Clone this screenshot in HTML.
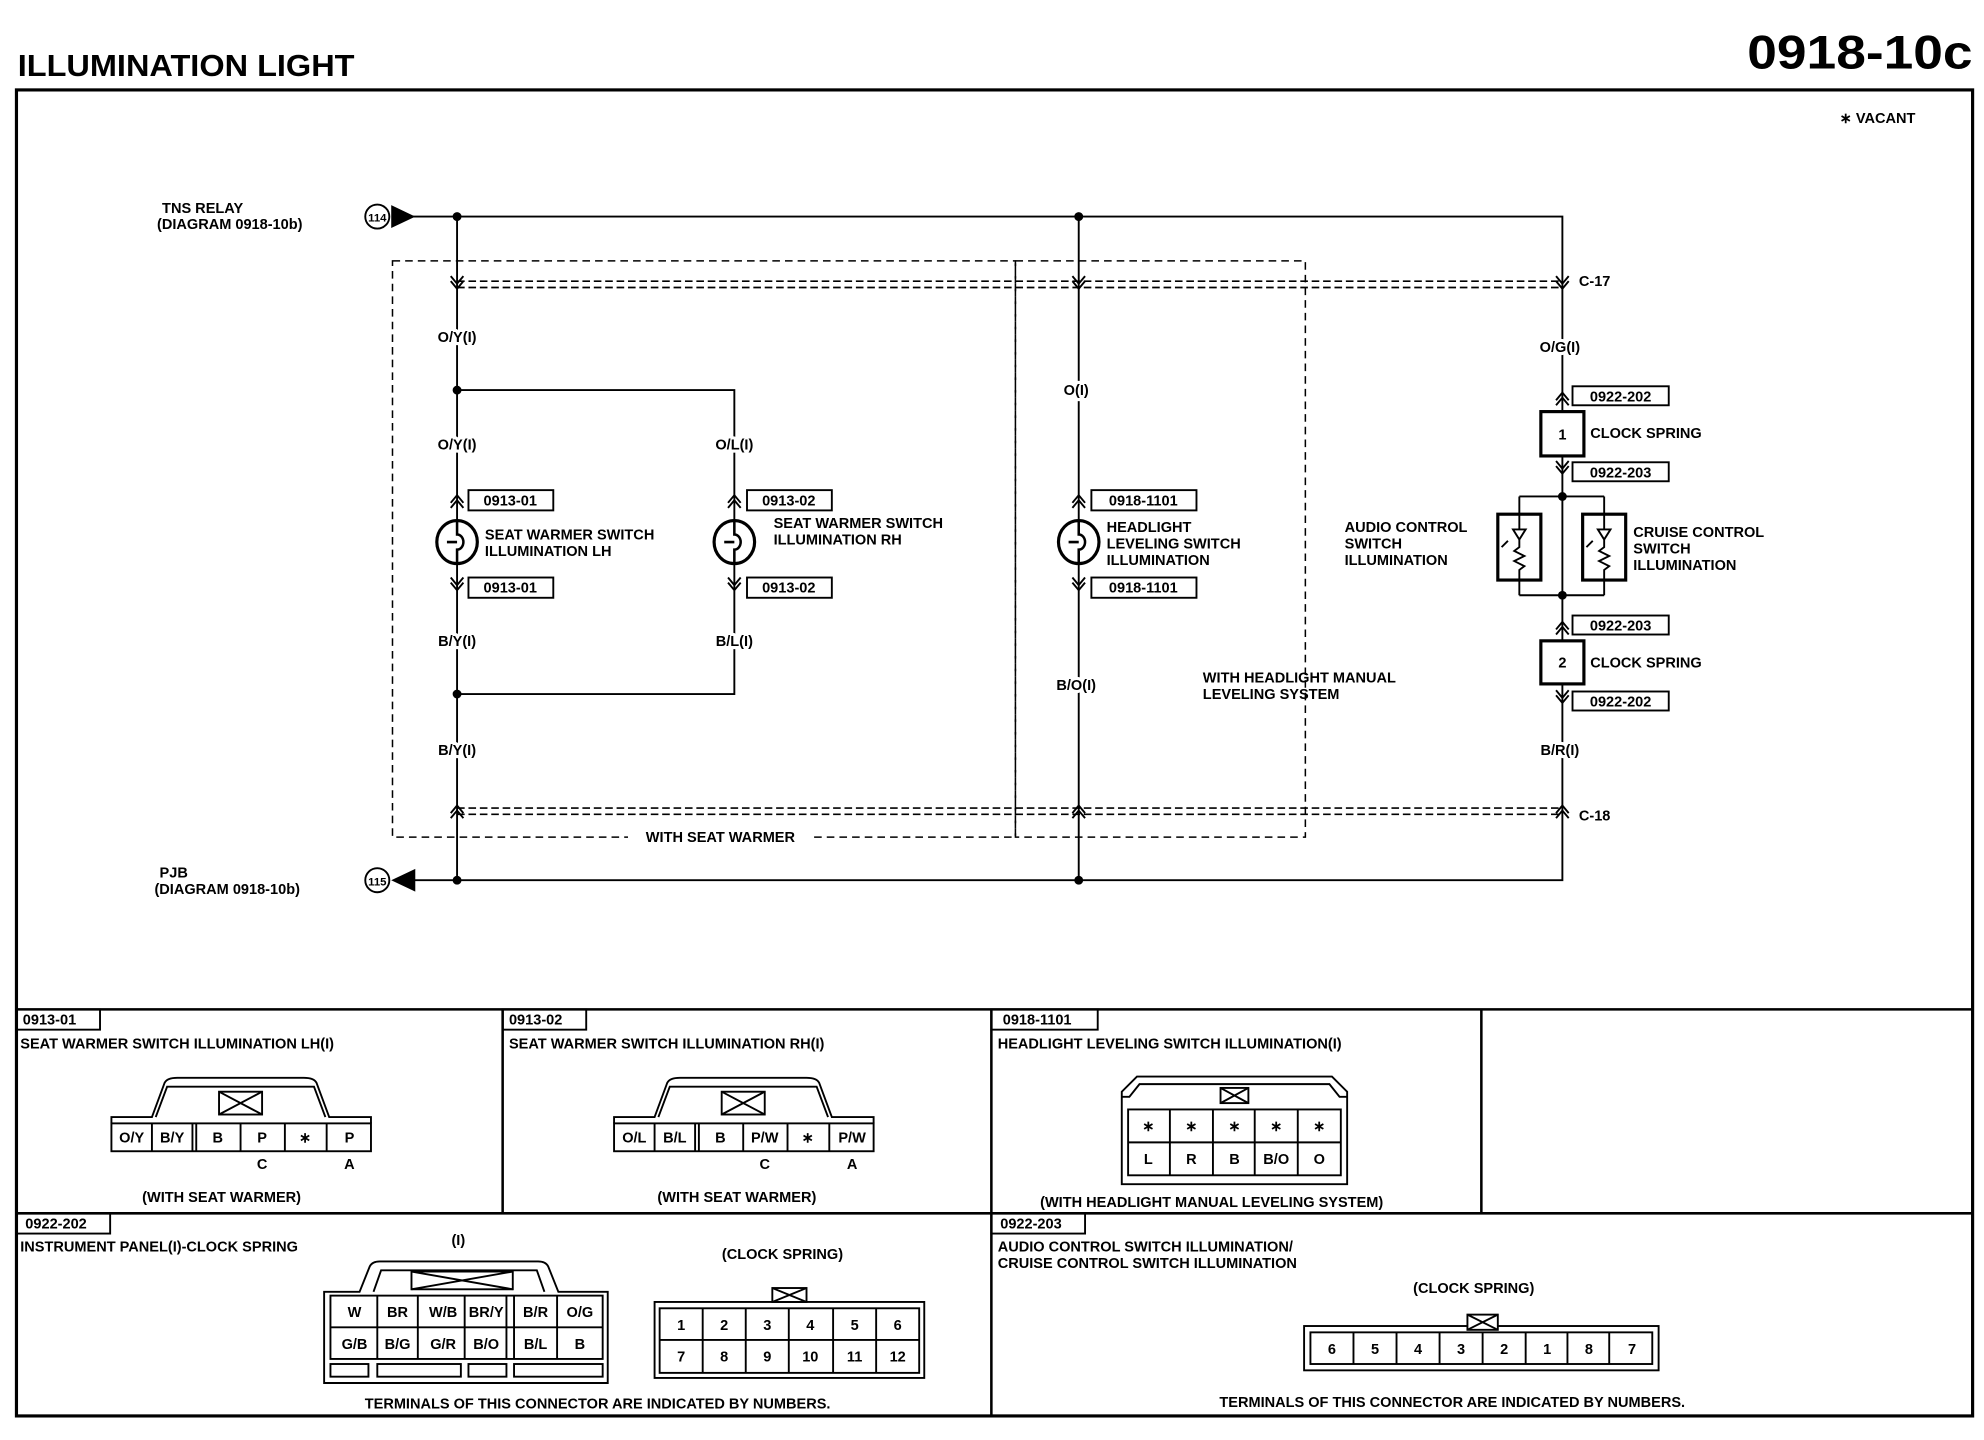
<!DOCTYPE html>
<html><head><meta charset="utf-8"><style>
html,body{margin:0;padding:0;background:#fff}
svg{display:block}
text{font-family:"Liberation Sans",Arial,sans-serif;font-weight:bold;fill:#000}
.s{font-size:11.5px}
.m{font-size:12.5px}
.w{stroke:#fff;stroke-width:5px;paint-order:stroke;stroke-linejoin:round}
</style></head><body>
<svg width="1984" height="1440" viewBox="0 0 1567 1137" preserveAspectRatio="none" xmlns="http://www.w3.org/2000/svg">
<defs>
<g id="up"><path d="M-5,4 L0,-2 L5,4 M-5,8 L0,2 L5,8" fill="none" stroke="#000" stroke-width="1.5"/></g>
<g id="dn"><path d="M-5,-4 L0,2 L5,-4 M-5,-8 L0,-2 L5,-8" fill="none" stroke="#000" stroke-width="1.5"/></g>
<g id="bulb"><ellipse cx="0" cy="0" rx="16" ry="17" fill="#fff" stroke="#000" stroke-width="2.5"/><path d="M0,-17 L0,-6 A5,6 0 0 1 0,6 L0,17 M-8,0 L0,0" fill="none" stroke="#000" stroke-width="2"/></g>
</defs>
<text x="14" y="60" style="font-size:24px" textLength="266" lengthAdjust="spacingAndGlyphs">ILLUMINATION LIGHT</text>
<text x="1380" y="54" style="font-size:37px" textLength="178" lengthAdjust="spacingAndGlyphs">0918-10c</text>
<rect x="13" y="71" width="1545" height="1047" fill="none" stroke="#000" stroke-width="2.5"/>
<text x="1453" y="97" class="s">∗ VACANT</text>

<g fill="none" stroke="#000" stroke-width="1.5">
<path d="M316,171 H1234 V695 H320"/>
<path d="M361,171 V695 M852,171 V695"/>
<path d="M361,308 H580 V548 H361"/>
<rect x="310" y="206" width="492" height="455" stroke-dasharray="6,4" stroke-width="1.2"/>
<rect x="802" y="206" width="229" height="455" stroke-dasharray="6,4" stroke-width="1.2"/>
<path d="M361,222 H1234 M361,227 H1234 M361,638 H1234 M361,643 H1234" stroke-dasharray="6,3" stroke-width="1.3"/>
<rect x="1217" y="325" width="34" height="35" stroke-width="2.5" fill="#fff"/>
<rect x="1217" y="506" width="34" height="34" stroke-width="2.5" fill="#fff"/>
<path d="M1200,392 H1267 M1200,470 H1267 M1200,392 V406 M1267,392 V406 M1200,458 V470 M1267,458 V470"/>
<rect x="1183" y="406" width="34" height="52" stroke-width="2.5"/>
<rect x="1250" y="406" width="34" height="52" stroke-width="2.5"/>
<path d="M1200,406 V418 M1195,418 H1205 L1200,426 Z M1200,426 V432 L1196,435 L1204,439 L1196,443 L1204,447 L1200,450 V458"/>
<path d="M1267,406 V418 M1262,418 H1272 L1267,426 Z M1267,426 V432 L1263,435 L1271,439 L1263,443 L1271,447 L1267,450 V458"/>
<path d="M1186,432 l5,-5 M1253,432 l5,-5"/>
<rect x="370" y="387" width="67" height="16"/><rect x="370" y="456" width="67" height="16"/>
<rect x="590" y="387" width="67" height="16"/><rect x="590" y="456" width="67" height="16"/>
<rect x="862" y="387" width="83" height="16"/><rect x="862" y="456" width="83" height="16"/>
<rect x="1242" y="305" width="76" height="15"/><rect x="1242" y="365" width="76" height="15"/>
<rect x="1242" y="486" width="76" height="15"/><rect x="1242" y="546" width="76" height="15"/>
</g>
<path d="M309,162 L328,171 L309,180 Z"/>
<path d="M328,686 L309,695 L328,704 Z"/>
<circle cx="298" cy="171" r="9.5" fill="#fff" stroke="#000" stroke-width="1.5"/>
<circle cx="298" cy="695" r="9.5" fill="#fff" stroke="#000" stroke-width="1.5"/>
<text x="298" y="175" text-anchor="middle" style="font-size:9px">114</text>
<text x="298" y="699" text-anchor="middle" style="font-size:9px">115</text>
<g fill="#000"><circle cx="361" cy="171" r="3.5"/><circle cx="852" cy="171" r="3.5"/><circle cx="361" cy="308" r="3.5"/><circle cx="361" cy="548" r="3.5"/><circle cx="361" cy="695" r="3.5"/><circle cx="852" cy="695" r="3.5"/><circle cx="1234" cy="392" r="3.5"/><circle cx="1234" cy="470" r="3.5"/></g>
<use href="#dn" x="361" y="226"/><use href="#dn" x="852" y="226"/><use href="#dn" x="1234" y="226"/>
<use href="#up" x="361" y="638"/><use href="#up" x="852" y="638"/><use href="#up" x="1234" y="638"/>
<use href="#up" x="361" y="393"/><use href="#up" x="580" y="393"/><use href="#up" x="852" y="393"/>
<use href="#dn" x="361" y="464"/><use href="#dn" x="580" y="464"/><use href="#dn" x="852" y="464"/>
<use href="#up" x="1234" y="312"/><use href="#dn" x="1234" y="372"/><use href="#up" x="1234" y="493"/><use href="#dn" x="1234" y="553"/>
<use href="#bulb" x="361" y="428"/><use href="#bulb" x="580" y="428"/><use href="#bulb" x="852" y="428"/>

<g class="s">
<text x="128" y="168">TNS RELAY</text><text x="124" y="181">(DIAGRAM 0918-10b)</text>
<text x="126" y="693">PJB</text><text x="122" y="706">(DIAGRAM 0918-10b)</text>
<text class="w" x="361" y="270" text-anchor="middle">O/Y(I)</text>
<text class="w" x="361" y="355" text-anchor="middle">O/Y(I)</text>
<text class="w" x="580" y="355" text-anchor="middle">O/L(I)</text>
<text class="w" x="361" y="510" text-anchor="middle">B/Y(I)</text>
<text class="w" x="580" y="510" text-anchor="middle">B/L(I)</text>
<text class="w" x="361" y="596" text-anchor="middle">B/Y(I)</text>
<text class="w" x="850" y="312" text-anchor="middle">O(I)</text>
<text class="w" x="850" y="545" text-anchor="middle">B/O(I)</text>
<text class="w" x="1232" y="278" text-anchor="middle">O/G(I)</text>
<text class="w" x="1232" y="596" text-anchor="middle">B/R(I)</text>
<text x="1247" y="226">C-17</text><text x="1247" y="648">C-18</text>
<text x="383" y="426">SEAT WARMER SWITCH</text><text x="383" y="439">ILLUMINATION LH</text>
<text x="611" y="417">SEAT WARMER SWITCH</text><text x="611" y="430">ILLUMINATION RH</text>
<text x="874" y="420">HEADLIGHT</text><text x="874" y="433">LEVELING SWITCH</text><text x="874" y="446">ILLUMINATION</text>
<text x="1062" y="420">AUDIO CONTROL</text><text x="1062" y="433">SWITCH</text><text x="1062" y="446">ILLUMINATION</text>
<text x="1290" y="424">CRUISE CONTROL</text><text x="1290" y="437">SWITCH</text><text x="1290" y="450">ILLUMINATION</text>
<text x="1256" y="346">CLOCK SPRING</text><text x="1256" y="527">CLOCK SPRING</text>
<text x="950" y="539">WITH HEADLIGHT MANUAL</text><text x="950" y="552">LEVELING SYSTEM</text>
<text class="w" x="1234" y="347" text-anchor="middle">1</text><text class="w" x="1234" y="527" text-anchor="middle">2</text>
<text x="403" y="399" text-anchor="middle">0913-01</text><text x="403" y="468" text-anchor="middle">0913-01</text>
<text x="623" y="399" text-anchor="middle">0913-02</text><text x="623" y="468" text-anchor="middle">0913-02</text>
<text x="903" y="399" text-anchor="middle">0918-1101</text><text x="903" y="468" text-anchor="middle">0918-1101</text>
<text x="1280" y="317" text-anchor="middle">0922-202</text><text x="1280" y="377" text-anchor="middle">0922-203</text>
<text x="1280" y="498" text-anchor="middle">0922-203</text><text x="1280" y="558" text-anchor="middle">0922-202</text>
</g>
<rect x="496" y="655" width="146" height="12" fill="#fff"/>
<text x="569" y="665" text-anchor="middle" class="s">WITH SEAT WARMER</text>

<g fill="none" stroke="#000" stroke-width="1.5">
<path d="M13,797 H1558 M13,958 H1558 M397,797 V958 M783,797 V1118 M1170,797 V958" stroke-width="2"/>
<rect x="13" y="797" width="66" height="16"/><rect x="397" y="797" width="66" height="16"/><rect x="783" y="797" width="84" height="16"/>
<rect x="13" y="958" width="74" height="16"/><rect x="783" y="958" width="74" height="16"/>
</g>
<g class="s">
<text x="18" y="809">0913-01</text><text x="402" y="809">0913-02</text><text x="792" y="809">0918-1101</text>
<text x="20" y="970">0922-202</text><text x="790" y="970">0922-203</text>
<text x="16" y="828">SEAT WARMER SWITCH ILLUMINATION LH(I)</text>
<text x="402" y="828">SEAT WARMER SWITCH ILLUMINATION RH(I)</text>
<text x="788" y="828">HEADLIGHT LEVELING SWITCH ILLUMINATION(I)</text>
<text x="16" y="988">INSTRUMENT PANEL(I)-CLOCK SPRING</text>
<text x="788" y="988">AUDIO CONTROL SWITCH ILLUMINATION/</text>
<text x="788" y="1001">CRUISE CONTROL SWITCH ILLUMINATION</text>
<text x="175" y="949" text-anchor="middle">(WITH SEAT WARMER)</text>
<text x="582" y="949" text-anchor="middle">(WITH SEAT WARMER)</text>
<text x="957" y="953" text-anchor="middle">(WITH HEADLIGHT MANUAL LEVELING SYSTEM)</text>
<text x="362" y="983" text-anchor="middle">(I)</text>
<text x="618" y="994" text-anchor="middle">(CLOCK SPRING)</text>
<text x="1164" y="1021" text-anchor="middle">(CLOCK SPRING)</text>
<text x="472" y="1112" text-anchor="middle">TERMINALS OF THIS CONNECTOR ARE INDICATED BY NUMBERS.</text>
<text x="1147" y="1111" text-anchor="middle">TERMINALS OF THIS CONNECTOR ARE INDICATED BY NUMBERS.</text>
</g>

<g fill="none" stroke="#000" stroke-width="1.5">
<path d="M88,887 V882 H120 L130,855 Q132,851 140,851 H240 Q248,851 250,855 L260,882 H293 V887"/>
<path d="M123,882 L132,858 H248 L257,882"/>
<rect x="173" y="862" width="34" height="18"/><path d="M173,862 L207,880 M207,862 L173,880"/>
<rect x="88" y="887" width="205" height="22"/>
<path d="M120,887 V909 M152,887 V909 M155,887 V909 M190,887 V909 M225,887 V909 M258,887 V909"/>
</g>
<g class="s" text-anchor="middle"><text x="104" y="902">O/Y</text><text x="136" y="902">B/Y</text><text x="172" y="902">B</text><text x="207" y="902">P</text><text x="241" y="902">∗</text><text x="276" y="902">P</text><text x="207" y="923">C</text><text x="276" y="923">A</text></g>
<g fill="none" stroke="#000" stroke-width="1.5" transform="translate(397,0)">
<path d="M88,887 V882 H120 L130,855 Q132,851 140,851 H240 Q248,851 250,855 L260,882 H293 V887"/>
<path d="M123,882 L132,858 H248 L257,882"/>
<rect x="173" y="862" width="34" height="18"/><path d="M173,862 L207,880 M207,862 L173,880"/>
<rect x="88" y="887" width="205" height="22"/>
<path d="M120,887 V909 M152,887 V909 M155,887 V909 M190,887 V909 M225,887 V909 M258,887 V909"/>
</g>
<g class="s" text-anchor="middle" transform="translate(397,0)"><text x="104" y="902">O/L</text><text x="136" y="902">B/L</text><text x="172" y="902">B</text><text x="207" y="902">P/W</text><text x="241" y="902">∗</text><text x="276" y="902">P/W</text><text x="207" y="923">C</text><text x="276" y="923">A</text></g>
<g fill="none" stroke="#000" stroke-width="1.5">
<path d="M886,935 V862 L898,850 H1052 L1064,862 V935 Z"/>
<path d="M886,866 H892 L900,856 H1050 L1058,866 H1064"/>
<rect x="964" y="859" width="22" height="12"/><path d="M964,859 L986,871 M986,859 L964,871"/>
<rect x="891" y="876" width="168" height="52"/>
<path d="M891,902 H1059 M924,876 V928 M958,876 V928 M991,876 V928 M1025,876 V928"/>
</g>
<g class="s" text-anchor="middle"><text x="907" y="893">∗</text><text x="941" y="893">∗</text><text x="975" y="893">∗</text><text x="1008" y="893">∗</text><text x="1042" y="893">∗</text>
<text x="907" y="919">L</text><text x="941" y="919">R</text><text x="975" y="919">B</text><text x="1008" y="919">B/O</text><text x="1042" y="919">O</text></g>
<g fill="none" stroke="#000" stroke-width="1.5">
<path d="M256,1020 H284 L292,1000 Q294,996 300,996 H425 Q431,996 433,1000 L441,1020 H480 V1092 H256 Z"/>
<path d="M295,1020 L301,1003 H424 L430,1020"/>
<rect x="325" y="1004" width="80" height="14"/><path d="M325,1004 L405,1018 M405,1004 L325,1018"/>
<rect x="261" y="1023" width="215" height="50"/>
<path d="M261,1048 H476 M298,1023 V1073 M330,1023 V1073 M367,1023 V1073 M400,1023 V1073 M406,1023 V1073 M440,1023 V1073"/>
<rect x="261" y="1077" width="30" height="10"/><rect x="298" y="1077" width="66" height="10"/><rect x="370" y="1077" width="30" height="10"/><rect x="406" y="1077" width="70" height="10"/>
</g>
<g class="s" text-anchor="middle"><text x="280" y="1040">W</text><text x="314" y="1040">BR</text><text x="350" y="1040">W/B</text><text x="384" y="1040">BR/Y</text><text x="423" y="1040">B/R</text><text x="458" y="1040">O/G</text>
<text x="280" y="1065">G/B</text><text x="314" y="1065">B/G</text><text x="350" y="1065">G/R</text><text x="384" y="1065">B/O</text><text x="423" y="1065">B/L</text><text x="458" y="1065">B</text></g>
<g fill="none" stroke="#000" stroke-width="1.5">
<rect x="517" y="1028" width="213" height="60"/>
<rect x="610" y="1017" width="27" height="11"/><path d="M610,1017 L637,1028 M637,1017 L610,1028"/>
<rect x="521" y="1033" width="205" height="51"/>
<path d="M521,1058 H726 M555,1033 V1084 M589,1033 V1084 M623,1033 V1084 M658,1033 V1084 M692,1033 V1084"/>
</g>
<g class="s" text-anchor="middle"><text x="538" y="1050">1</text><text x="572" y="1050">2</text><text x="606" y="1050">3</text><text x="640" y="1050">4</text><text x="675" y="1050">5</text><text x="709" y="1050">6</text>
<text x="538" y="1075">7</text><text x="572" y="1075">8</text><text x="606" y="1075">9</text><text x="640" y="1075">10</text><text x="675" y="1075">11</text><text x="709" y="1075">12</text></g>
<g fill="none" stroke="#000" stroke-width="1.5">
<rect x="1030" y="1047" width="280" height="35"/>
<rect x="1159" y="1038" width="24" height="12" fill="#fff"/><path d="M1159,1038 L1183,1050 M1183,1038 L1159,1050"/>
<rect x="1035" y="1052" width="270" height="25"/>
<path d="M1069,1052 V1077 M1103,1052 V1077 M1137,1052 V1077 M1171,1052 V1077 M1205,1052 V1077 M1238,1052 V1077 M1271,1052 V1077"/>
</g>
<g class="s" text-anchor="middle"><text x="1052" y="1069">6</text><text x="1086" y="1069">5</text><text x="1120" y="1069">4</text><text x="1154" y="1069">3</text><text x="1188" y="1069">2</text><text x="1222" y="1069">1</text><text x="1255" y="1069">8</text><text x="1289" y="1069">7</text></g>
</svg>
</body></html>
